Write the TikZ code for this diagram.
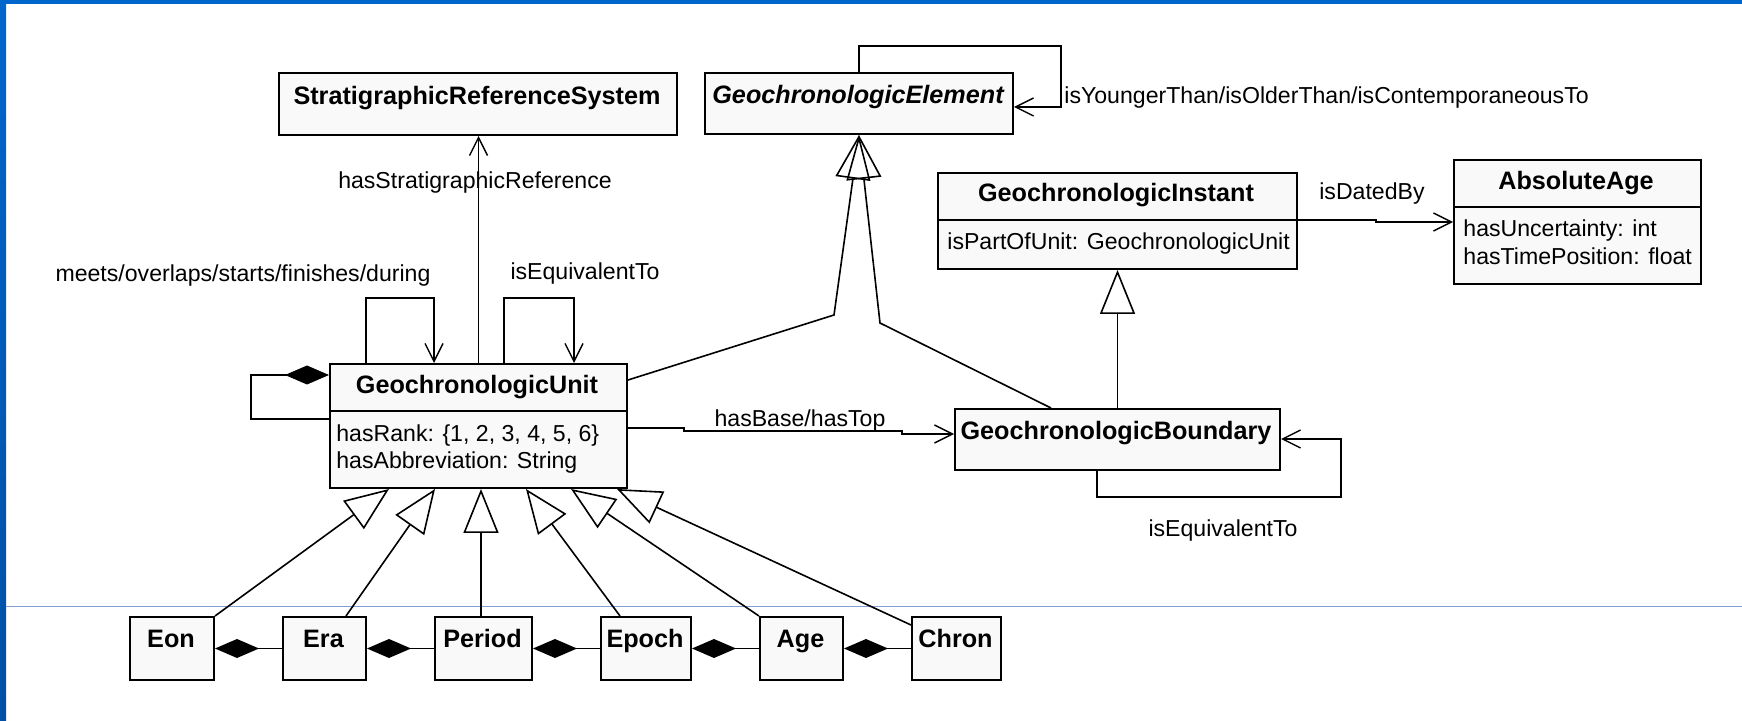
\documentclass[tikz,border=0pt]{standalone}
\usepackage{fontspec}
\setmainfont{Liberation Sans}
\usetikzlibrary{arrows.meta}
\definecolor{framebl}{RGB}{0,102,204}
\definecolor{framebd}{RGB}{0,80,165}
\definecolor{rulebl}{RGB}{130,160,210}
\definecolor{boxfill}{RGB}{249,249,249}
\tikzset{
  umlbox/.style={draw=black, line width=1pt, fill=boxfill, rectangle, anchor=north west, inner sep=0pt},
  divider/.style={line width=1pt},
  cname/.style={font=\fontsize{12.6pt}{14pt}\selectfont\bfseries, anchor=base, inner sep=0pt},
  attr/.style={font=\fontsize{11.55pt}{13pt}\selectfont, anchor=base west, inner sep=0pt},
  lbl/.style={font=\fontsize{11.55pt}{13pt}\selectfont, anchor=base, inner sep=0pt},
  conn/.style={line width=0.8pt},
  assoc/.style={conn, -{Straight Barb[length=9pt,width=9pt,line width=0.7pt]}},
  gener/.style={conn, -{Triangle[open,length=22pt,width=17.5pt,line width=0.8pt]}},
  compo/.style={conn, {Diamond[length=22pt,width=9.5pt]}-},
}
\begin{document}
\begin{tikzpicture}[x=0.5pt,y=-0.5pt]
\useasboundingbox (0,0) rectangle (1742,721);
% slide frame
\fill[white] (0,0) rectangle (1742,721);
\fill[framebl] (0,0) rectangle (1742,4);
\shade[top color=framebl, bottom color=framebd] (0,0) rectangle (6,721);
\draw[rulebl, line width=0.5pt] (6,607) -- (1742,607);

% classes
\node[umlbox, minimum width=199pt, minimum height=31pt] (srs) at (278,72) {};
\node[umlbox, minimum width=154pt, minimum height=30.5pt] (ge) at (704,72) {};
\node[umlbox, minimum width=179.5pt, minimum height=48pt] (gi) at (937,172) {};
\draw[divider] (gi.west |- 0,220) -- (gi.east |- 0,220);
\node[umlbox, minimum width=123.5pt, minimum height=62pt] (aa) at (1453,159) {};
\draw[divider] (aa.west |- 0,207) -- (aa.east |- 0,207);
\node[umlbox, minimum width=148.5pt, minimum height=62pt] (gu) at (329,363) {};
\draw[divider] (gu.west |- 0,411) -- (gu.east |- 0,411);
\node[umlbox, minimum width=162.5pt, minimum height=30.5pt] (gb) at (954,408) {};

\node[umlbox, minimum width=42pt, minimum height=31.5pt] (eon) at (129,616) {};
\node[umlbox, minimum width=41.5pt, minimum height=31.5pt] (era) at (282,616) {};
\node[umlbox, minimum width=48.5pt, minimum height=31.5pt] (period) at (434,616) {};
\node[umlbox, minimum width=45pt, minimum height=31.5pt] (epoch) at (600,616) {};
\node[umlbox, minimum width=41.5pt, minimum height=31.5pt] (age) at (759,616) {};
\node[umlbox, minimum width=44.5pt, minimum height=31.5pt] (chron) at (911,616) {};

% class names and attributes
\node[cname] (srs-n) at (477,105) {StratigraphicReferenceSystem};
\node[cname, font=\fontsize{12.6pt}{14pt}\selectfont\bfseries\itshape] (ge-n) at (858,104) {GeochronologicElement};
\node[cname] (gi-n) at (1116,202) {GeochronologicInstant};
\node[attr] (gi-a) at (947,250) {isPartOfUnit: GeochronologicUnit};
\node[cname] (aa-n) at (1576,190) {AbsoluteAge};
\node[attr] (aa-a1) at (1463,237) {hasUncertainty: int};
\node[attr] (aa-a2) at (1463,265) {hasTimePosition: float};
\node[cname] (gu-n) at (477,394) {GeochronologicUnit};
\node[attr] (gu-a1) at (336,442) {hasRank: \{1, 2, 3, 4, 5, 6\}};
\node[attr] (gu-a2) at (336,469) {hasAbbreviation: String};
\node[cname] (gb-n) at (1116,440) {GeochronologicBoundary};
\node[cname] (eon-n) at (171,647) {Eon};
\node[cname] (era-n) at (323.5,647) {Era};
\node[cname] (period-n) at (482.5,647) {Period};
\node[cname] (epoch-n) at (645,647) {Epoch};
\node[cname] (age-n) at (800.5,647) {Age};
\node[cname] (chron-n) at (955.5,647) {Chron};

% association labels
\node[lbl] (l-ref) at (475,189) {hasStratigraphicReference};
\node[lbl] (l-meets) at (243,282) {meets/overlaps/starts/finishes/during};
\node[lbl] (l-equ) at (585,280) {isEquivalentTo};
\node[lbl, anchor=base west] (l-young) at (1064,104) {isYoungerThan/isOlderThan/isContemporaneousTo};
\node[lbl] (l-dated) at (1372,200) {isDatedBy};
\node[lbl] (l-base) at (800,427) {hasBase/hasTop};
\node[lbl] (l-beq) at (1223,537) {isEquivalentTo};

% associations
\draw[assoc] (gu.north) -- (gu.north |- srs.south);
\draw[assoc] (366,0 |- gu.north) |- (434,298) -- (434,0 |- gu.north);
\draw[assoc] (504,0 |- gu.north) |- (574,298) -- (574,0 |- gu.north);
\draw[assoc] (ge.north) |- (1061,46) |- (ge.east |- 0,107);
\draw[assoc] (gu.east |- 0,428) -- (684,428) -- (684,431) -- (902,431) -- (902,434) -- (gb.west |- 0,434);
\draw[assoc] (gi.east |- 0,220) -- (1376,220) -- (1376,222) -- (aa.west |- 0,222);
\draw[assoc] (1097,0 |- gb.south) |- (1341,497) |- (gb.east |- 0,439);

% compositions
\draw[compo] (gu.west |- 0,375) -- (251,375) |- (gu.west |- 0,419);
\draw[compo] (eon.east) -- (era.west);
\draw[compo] (era.east) -- (period.west);
\draw[compo] (period.east) -- (epoch.west);
\draw[compo] (epoch.east) -- (age.west);
\draw[compo] (age.east) -- (chron.west);

% generalizations
\draw[gener] (gb.north) -- (gi.south);
\draw[gener] (gu.east |- 0,380) -- (834,315) -- (ge.south);
\draw[gener] (1051,0 |- gb.north) -- (880,323) -- (ge.south);
\draw[gener] (eon.north east) -- (389,0 |- gu.south);
\draw[gener] (346,0 |- era.north) -- (435,0 |- gu.south);
\draw[gener] (481,0 |- period.north) -- (481,0 |- gu.south);
\draw[gener] (620,0 |- epoch.north) -- (526,0 |- gu.south);
\draw[gener] (age.north west) -- (571,0 |- gu.south);
\draw[gener] (chron.west |- 0,625) -- (617,0 |- gu.south);
\end{tikzpicture}
\end{document}
